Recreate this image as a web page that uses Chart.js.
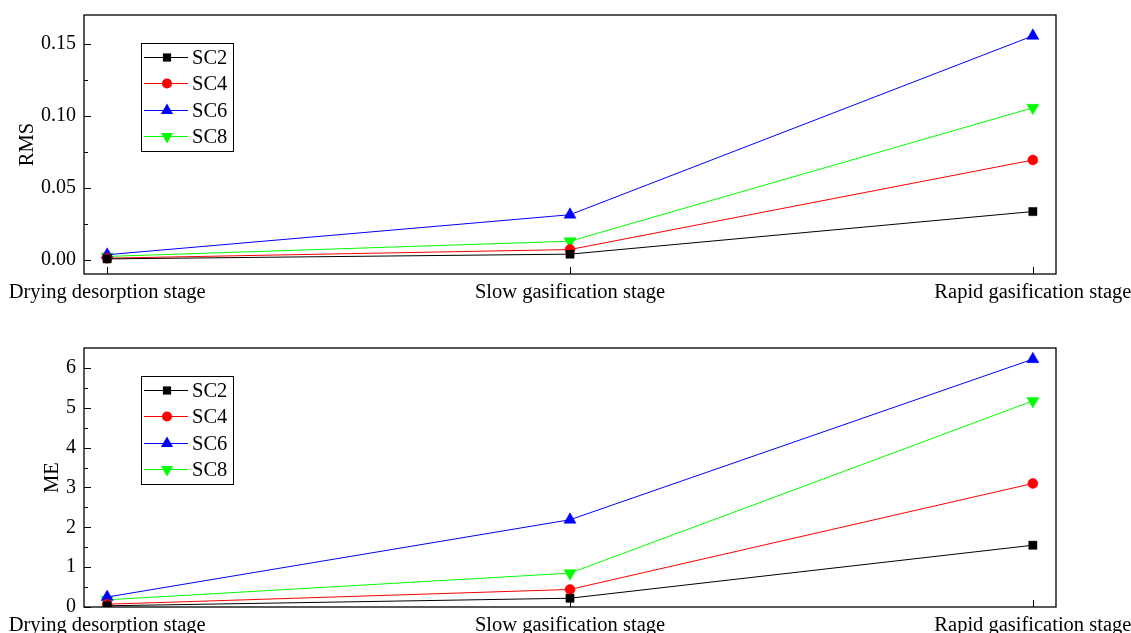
<!DOCTYPE html>
<html>
<head>
<meta charset="utf-8">
<script src="https://cdn.jsdelivr.net/npm/chart.js@4.4.0/dist/chart.umd.min.js"></script>
<style>
  html, body { margin: 0; padding: 0; background: #fff; overflow: hidden; width: 1131px; height: 633px; }
  .panel { position: absolute; left: 0; width: 1131px; height: 316px; }
  #topPanel { top: 0; }
  #bottomPanel { top: 333px; }
</style>
</head>
<body>
<div class="panel" id="topPanel"><canvas id="rmsChart" width="1131" height="316"></canvas></div>
<div class="panel" id="bottomPanel"><canvas id="meChart" width="1131" height="316"></canvas></div>
<script>
// Stages on the x axis
const stages = ['Drying desorption stage', 'Slow gasification stage', 'Rapid gasification stage'];
const seriesNames = ['SC2', 'SC4', 'SC6', 'SC8'];

// RMS per stage
const rmsSC2 = [0.0005, 0.0038, 0.0334];
const rmsSC4 = [0.0010, 0.0070, 0.0692];
const rmsSC6 = [0.0034, 0.0312, 0.1555];
const rmsSC8 = [0.0022, 0.0128, 0.1055];

// ME per stage
const meSC2 = [0.03, 0.22, 1.55];
const meSC4 = [0.07, 0.44, 3.10];
const meSC6 = [0.25, 2.19, 6.22];
const meSC8 = [0.18, 0.85, 5.17];

// Axis ticks
const rmsTicks = [0.00, 0.05, 0.10, 0.15];
const rmsMinorTicks = [0.025, 0.075, 0.125];
const meTicks = [0, 1, 2, 3, 4, 5, 6];
const meMinorTicks = [0.5, 1.5, 2.5, 3.5, 4.5, 5.5];

const FONT = 'Liberation Serif, Times New Roman, serif';
const LABEL_SIZE = 20.5;
const styles = [
  { color: '#000000', pointStyle: 'rect', radius: 5.8, rotation: 0 },
  { color: '#ff0000', pointStyle: 'circle', radius: 5, rotation: 0 },
  { color: '#0000ff', pointStyle: 'triangle', radius: 7, rotation: 0 },
  { color: '#00ff00', pointStyle: 'triangle', radius: 7, rotation: 180 }
];

function makeDatasets(valueArrays) {
  return valueArrays.map((vals, i) => ({
    label: seriesNames[i],
    data: vals.map((v, k) => ({ x: k, y: v })),
    borderColor: styles[i].color,
    backgroundColor: styles[i].color,
    borderWidth: 1,
    pointStyle: styles[i].pointStyle,
    pointRadius: styles[i].radius,
    pointRotation: styles[i].rotation,
    pointBackgroundColor: styles[i].color,
    pointBorderColor: styles[i].color,
    pointBorderWidth: 0.5,
    tension: 0
  }));
}

// Legend marker drawn with the same shapes as the points
function drawMarker(ctx, style, cx, cy) {
  ctx.save();
  ctx.fillStyle = style.color;
  ctx.translate(cx, cy);
  ctx.rotate(style.rotation * Math.PI / 180);
  ctx.beginPath();
  const r = style.radius;
  if (style.pointStyle === 'rect') {
    const s = r * Math.SQRT1_2;
    ctx.rect(-s, -s, 2 * s, 2 * s);
  } else if (style.pointStyle === 'circle') {
    ctx.arc(0, 0, r, 0, Math.PI * 2);
  } else {
    for (let k = 0; k < 3; k++) {
      const a = -Math.PI / 2 + k * 2 * Math.PI / 3;
      const px = Math.cos(a) * r, py = Math.sin(a) * r;
      if (k === 0) ctx.moveTo(px, py); else ctx.lineTo(px, py);
    }
    ctx.closePath();
  }
  ctx.fill();
  ctx.restore();
}

// Frame, inward tick marks and boxed legend
const framePlugin = {
  id: 'frame',
  afterDraw(chart, args, opts) {
    const { ctx, chartArea: a } = chart;
    const xs = chart.scales.x, ys = chart.scales.y;
    ctx.save();
    ctx.strokeStyle = '#000';
    ctx.lineWidth = 1;
    ctx.beginPath();
    ys.ticks.forEach(t => {
      const py = Math.round(ys.getPixelForValue(t.value)) + 0.5;
      ctx.moveTo(a.left, py); ctx.lineTo(a.left + 7, py);
    });
    opts.minor.forEach(v => {
      const py = Math.round(ys.getPixelForValue(v)) + 0.5;
      ctx.moveTo(a.left, py); ctx.lineTo(a.left + 4, py);
    });
    xs.ticks.forEach(t => {
      const px = Math.round(xs.getPixelForValue(t.value)) + 0.5;
      ctx.moveTo(px, a.bottom); ctx.lineTo(px, a.bottom - 7);
    });
    ctx.stroke();

    ctx.lineWidth = 1.3;
    ctx.strokeRect(a.left, a.top, a.right - a.left, a.bottom - a.top);

    // legend box
    const bx = 141.5, by = 43.5, bw = 92, bh = 108;
    ctx.fillStyle = '#fff';
    ctx.fillRect(bx, by, bw, bh);
    ctx.lineWidth = 1;
    ctx.strokeRect(bx, by, bw, bh);
    ctx.font = LABEL_SIZE + 'px ' + FONT;
    ctx.textBaseline = 'middle';
    chart.data.datasets.forEach((ds, i) => {
      const cy = Math.round(57 + i * 26.4) + 0.5;
      ctx.strokeStyle = ds.borderColor;
      ctx.lineWidth = 1;
      ctx.beginPath();
      ctx.moveTo(144, cy);
      ctx.lineTo(188, cy);
      ctx.stroke();
      drawMarker(ctx, styles[i], 167, cy);
      ctx.fillStyle = '#000';
      ctx.fillText(ds.label, 192, cy + 1);
    });
    ctx.restore();
  }
};

function makeChart(canvasId, datasets, yMin, yMax, yTicks, yMinor, title, titlePad, fmt) {
  return new Chart(document.getElementById(canvasId), {
    type: 'line',
    data: { datasets },
    options: {
      responsive: false,
      devicePixelRatio: 1,
      animation: false,
      layout: { padding: { left: 0, right: 75, top: 15, bottom: 0 } },
      plugins: { legend: { display: false }, tooltip: { enabled: false }, frame: { minor: yMinor } },
      scales: {
        x: {
          type: 'linear',
          min: -0.05,
          max: 2.05,
          grid: { display: false, drawTicks: false },
          border: { display: false },
          afterBuildTicks: s => { s.ticks = stages.map((_, i) => ({ value: i })); },
          afterFit: s => { s.height = 42; s.paddingLeft = 0; s.paddingRight = 0; },
          ticks: {
            autoSkip: false, maxRotation: 0, minRotation: 0, padding: 6,
            color: '#000', font: { family: FONT, size: LABEL_SIZE },
            callback: v => stages[v]
          }
        },
        y: {
          min: yMin,
          max: yMax,
          grid: { display: false, drawTicks: false },
          border: { display: false },
          afterBuildTicks: s => { s.ticks = yTicks.map(v => ({ value: v })); },
          afterFit: s => { s.width = 84; s.paddingTop = 0; s.paddingBottom = 0; },
          ticks: {
            padding: 8, color: '#000', font: { family: FONT, size: 20 },
            callback: fmt
          },
          title: {
            display: true, text: title, color: '#000',
            font: { family: FONT, size: LABEL_SIZE },
            padding: { top: titlePad, bottom: 0 }
          }
        }
      }
    },
    plugins: [framePlugin]
  });
}

makeChart('rmsChart', makeDatasets([rmsSC2, rmsSC4, rmsSC6, rmsSC8]),
  -0.01, 0.17, rmsTicks, rmsMinorTicks, 'RMS', 15, v => Number(v).toFixed(2));
makeChart('meChart', makeDatasets([meSC2, meSC4, meSC6, meSC8]),
  0, 6.5, meTicks, meMinorTicks, 'ME', 40, v => String(v));
</script>
</body>
</html>
